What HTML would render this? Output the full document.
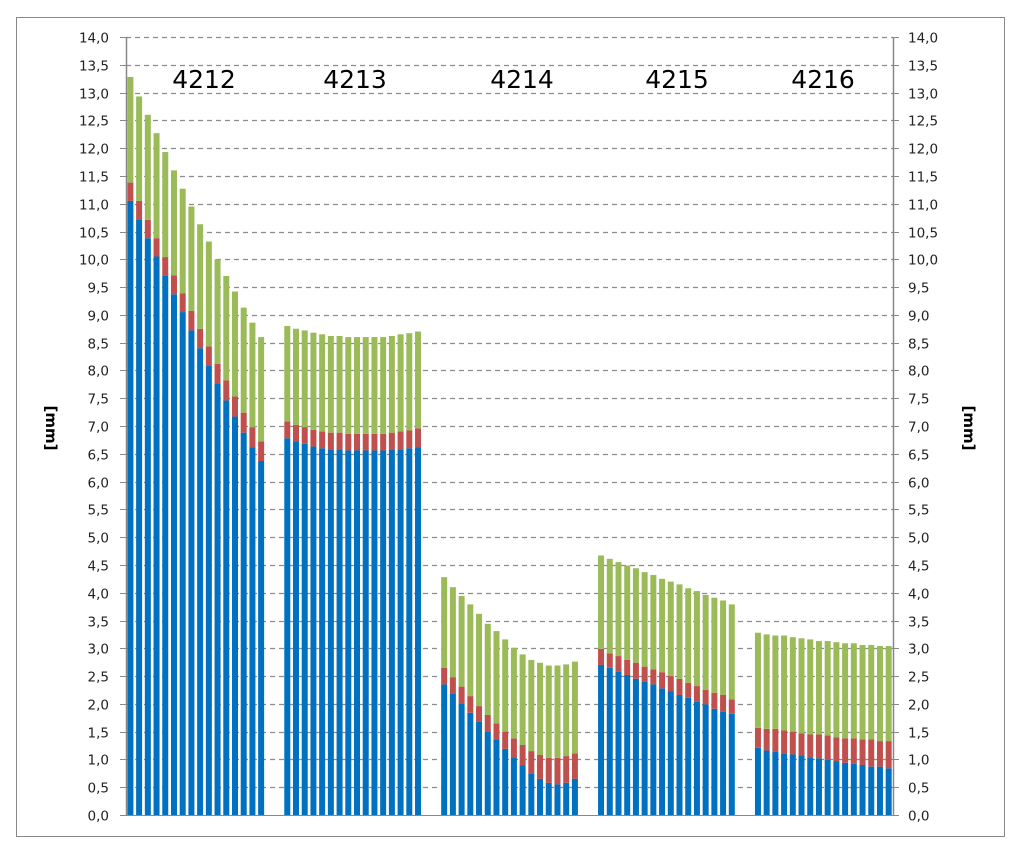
<!DOCTYPE html>
<html><head><meta charset="utf-8"><style>
body{margin:0;background:#fff;}
svg text{font-family:"DejaVu Sans","Liberation Sans",sans-serif;}
</style></head><body>
<svg id="chart" width="1024" height="855" xmlns="http://www.w3.org/2000/svg">
<rect x="16.5" y="17.5" width="988" height="819" fill="#fff" stroke="#888" stroke-width="1"/>
<g id="grid"></g><g id="bars"></g><g id="axes"></g>
<text transform="translate(46,428) rotate(90)" text-anchor="middle" font-size="15" font-weight="bold">[mm]</text>
<text transform="translate(964,428) rotate(90)" text-anchor="middle" font-size="15" font-weight="bold">[mm]</text>
</svg>
<script>
const groups = ["4212","4213","4214","4215","4216"];
const blue = [
[11.05,10.72,10.38,10.05,9.7,9.37,9.05,8.72,8.4,8.08,7.77,7.46,7.17,6.88,6.62,6.37],
[6.78,6.72,6.68,6.63,6.6,6.58,6.58,6.56,6.56,6.56,6.56,6.56,6.58,6.58,6.6,6.62],
[2.35,2.19,2.01,1.84,1.68,1.5,1.36,1.19,1.04,0.89,0.75,0.65,0.58,0.55,0.58,0.65],
[2.7,2.65,2.58,2.52,2.45,2.4,2.35,2.28,2.23,2.16,2.11,2.04,1.99,1.91,1.86,1.82],
[1.21,1.16,1.14,1.11,1.09,1.07,1.04,1.02,0.99,0.97,0.94,0.92,0.9,0.87,0.87,0.84]];
const redTop = [
[11.38,11.05,10.71,10.38,10.04,9.71,9.39,9.07,8.75,8.43,8.12,7.82,7.53,7.24,6.98,6.72],
[7.08,7.02,6.98,6.93,6.9,6.88,6.88,6.86,6.86,6.86,6.86,6.86,6.88,6.9,6.92,6.96],
[2.65,2.48,2.31,2.14,1.96,1.8,1.65,1.5,1.38,1.26,1.15,1.08,1.03,1.03,1.06,1.11],
[2.99,2.91,2.86,2.79,2.74,2.67,2.62,2.57,2.5,2.45,2.38,2.32,2.25,2.2,2.16,2.08],
[1.57,1.55,1.55,1.52,1.5,1.47,1.45,1.45,1.43,1.4,1.38,1.38,1.36,1.36,1.33,1.33]];
const greenTop = [
[13.28,12.93,12.6,12.27,11.93,11.6,11.27,10.95,10.63,10.32,10.0,9.7,9.42,9.13,8.86,8.6],
[8.8,8.75,8.72,8.68,8.65,8.62,8.62,8.6,8.6,8.6,8.6,8.6,8.62,8.65,8.67,8.7],
[4.28,4.1,3.94,3.79,3.62,3.44,3.31,3.16,3.01,2.89,2.79,2.74,2.69,2.69,2.71,2.76],
[4.67,4.61,4.55,4.49,4.44,4.37,4.32,4.25,4.2,4.15,4.08,4.03,3.96,3.91,3.86,3.79],
[3.28,3.25,3.23,3.23,3.2,3.18,3.16,3.13,3.13,3.11,3.09,3.09,3.06,3.06,3.04,3.04]];
const yTicks = ["0,0","0,5","1,0","1,5","2,0","2,5","3,0","3,5","4,0","4,5","5,0","5,5","6,0","6,5","7,0","7,5","8,0","8,5","9,0","9,5","10,0","10,5","11,0","11,5","12,0","12,5","13,0","13,5","14,0"];

const NS="http://www.w3.org/2000/svg";
const L=126,R=893,T=37,B=815,YMAX=14;
const slot=(R-L)/88;
const labelX=[204,355,522,677,823];
function y(v){return B-(v/YMAX)*(B-T);}
function xs(g,i){return L+(g*18+i)*slot+1.4;}
function mk(tag,attrs,parent){const e=document.createElementNS(NS,tag);for(const k in attrs)e.setAttribute(k,attrs[k]);parent.appendChild(e);return e;}
const grid=document.getElementById('grid'),bars=document.getElementById('bars'),axes=document.getElementById('axes');
yTicks.forEach((t,i)=>{
  const v=i*0.5,yy=Math.round(y(v))+0.5;
  if(i>0){const gl=mk('line',{x1:L,x2:R,y1:yy,y2:yy,stroke:'#8c8c8c','stroke-dasharray':'5,4','stroke-width':1.3},grid);
  
  }
  const tl=mk('line',{x1:L-6,x2:L,y1:yy,y2:yy,stroke:'#888'},axes);
  
  
  const tr=mk('line',{x1:R,x2:R+6,y1:yy,y2:yy,stroke:'#888'},axes);
  
  
  const a=mk('text',{x:109,y:yy+5,'text-anchor':'end','font-size':13.5,fill:'#222'},axes);a.textContent=t;
  
  
  const b=mk('text',{x:908,y:yy+5,'font-size':13.5,fill:'#222'},axes);b.textContent=t;
  
  
});
const la=mk('line',{x1:L+0.5,x2:L+0.5,y1:T,y2:B,stroke:'#888','stroke-width':1.5},axes);


const ra=mk('line',{x1:R+0.5,x2:R+0.5,y1:T,y2:B,stroke:'#888','stroke-width':1.5},axes);


const ba=mk('line',{x1:L,x2:R,y1:B+0.5,y2:B+0.5,stroke:'#888'},axes);


const bw=6;
groups.forEach((g,gi)=>{
  for(let i=0;i<16;i++){
    const x=xs(gi,i);
    const b1=mk('rect',{x:x,y:y(blue[gi][i]),width:bw,height:B-y(blue[gi][i]),fill:'#0070c0'},bars);
    
    
    const b2=mk('rect',{x:x,y:y(redTop[gi][i]),width:bw,height:y(blue[gi][i])-y(redTop[gi][i]),fill:'#c0504d'},bars);
    
    
    const b3=mk('rect',{x:x,y:y(greenTop[gi][i]),width:bw,height:y(redTop[gi][i])-y(greenTop[gi][i]),fill:'#9bbb59'},bars);
    
    
  }
  const lbl=mk('text',{x:labelX[gi],y:88,'text-anchor':'middle','font-size':25,fill:'#000'},bars);
  lbl.textContent=g;
  
  
});
</script>
</body></html>
